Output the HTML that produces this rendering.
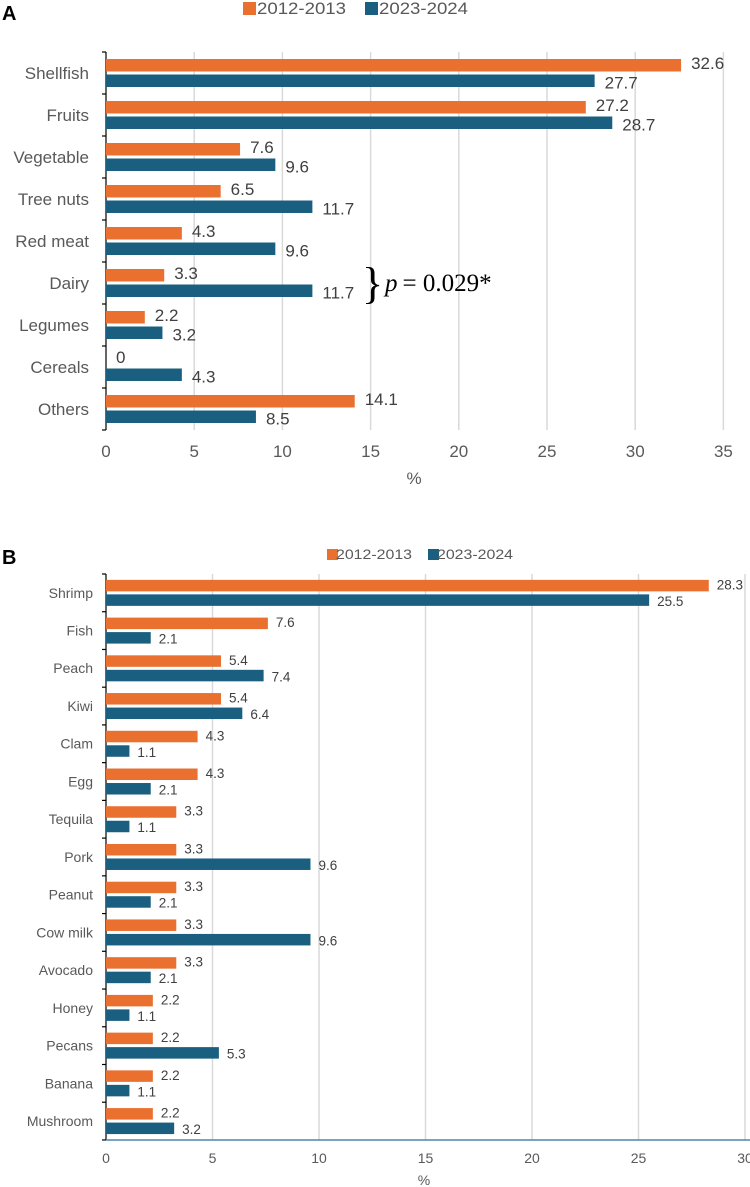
<!DOCTYPE html>
<html><head><meta charset="utf-8"><style>
html,body{margin:0;padding:0;background:#fff;}
svg{display:block;font-family:"Liberation Sans",Arial,sans-serif;}
</style></head><body>
<svg id="chart" width="750" height="1187" viewBox="0 0 750 1187">
<text x="2" y="20" font-size="20" font-weight="bold" fill="#000">A</text>
<text x="2" y="564" font-size="20" font-weight="bold" fill="#000">B</text>
<g id="ga"></g><g id="gb"></g>
</svg>
<script>
const catsA=["Shellfish","Fruits","Vegetable","Tree nuts","Red meat","Dairy","Legumes","Cereals","Others"];
const valsA1=[32.6,27.2,7.6,6.5,4.3,3.3,2.2,0,14.1];
const valsA2=[27.7,28.7,9.6,11.7,9.6,11.7,3.2,4.3,8.5];
const ticksA=[0,5,10,15,20,25,30,35];
const catsB=["Shrimp","Fish","Peach","Kiwi","Clam","Egg","Tequila","Pork","Peanut","Cow milk","Avocado","Honey","Pecans","Banana","Mushroom"];
const valsB1=[28.3,7.6,5.4,5.4,4.3,4.3,3.3,3.3,3.3,3.3,3.3,2.2,2.2,2.2,2.2];
const valsB2=[25.5,2.1,7.4,6.4,1.1,2.1,1.1,9.6,2.1,9.6,2.1,1.1,5.3,1.1,3.2];
const ticksB=[0,5,10,15,20,25,30];
const NS="http://www.w3.org/2000/svg";
const OR="#ea7030",BL="#1b5f80";
function mk(p,t,a,txt){const e=document.createElementNS(NS,t);for(const k in a)e.setAttribute(k,a[k]);if(txt!==undefined)e.textContent=txt;p.appendChild(e);return e;}
function draw(g,o){
  const x=v=>o.x0+v*o.u;
  const yb=i=>o.top+i*o.band;
  const bottom=o.top+o.cats.length*o.band;
  o.ticks.forEach(t=>{
    if(t>0){const l=mk(g,"line",{x1:x(t),x2:x(t),y1:o.top,y2:bottom,stroke:"#d9d9d9","stroke-width":1.5});
    
    }
    const tl=mk(g,"text",{x:x(t),y:o.tickY,"font-size":o.tfs,fill:"#595959","text-anchor":"middle"},t);
    
    
  });
  const ax=mk(g,"line",{x1:o.x0,x2:o.x0,y1:o.top,y2:bottom,stroke:"#000","stroke-width":1.2});
  
  
  for(let i=0;i<=o.cats.length;i++){const tk=mk(g,"line",{x1:o.x0-4,x2:o.x0,y1:yb(i),y2:yb(i),stroke:"#000","stroke-width":1.2});
    
    }
  if(o.baseline){const bl=mk(g,"line",{x1:o.x0,x2:750,y1:bottom,y2:bottom,stroke:"#4a86a8","stroke-width":1.5});
    
    }
  o.cats.forEach((c,i)=>{
    const cy=yb(i)+o.band/2;
    const cl=mk(g,"text",{x:o.x0-o.lpad,y:cy+o.cfs*0.35,"font-size":o.cfs,fill:"#595959","text-anchor":"end"},c);
    
    
    [[o.v1[i],OR,cy-o.gap-o.bh],[o.v2[i],BL,cy+o.gap]].forEach(([v,col,y],s)=>{
      if(v>0){const r=mk(g,"rect",{x:o.x0,y:y,width:x(v)-o.x0,height:o.bh,fill:col});
      
      }
      const vl=mk(g,"text",{x:x(v)+o.vpad,y:y+o.bh/2+o.vfs*0.35+(s?o.vdy:-o.vdy),"font-size":o.vfs,fill:"#404040"},String(v));
      
      
    });
  });
  const xt=mk(g,"text",{x:o.xtX,y:o.xtY,"font-size":o.tfs,fill:"#595959","text-anchor":"middle"},"%");
  
  
  o.leg.forEach(([lx,tx,txt,col,tw])=>{
    const sq=mk(g,"rect",{x:lx,y:o.legY,width:o.legS,height:o.legS,fill:col});
    
    
    const lt=mk(g,"text",{x:tx,y:o.legY+o.legS-1,"font-size":o.lfs,fill:"#595959",textLength:tw,lengthAdjust:"spacingAndGlyphs"},txt);
    
    
  });
}
draw(document.getElementById("ga"),{cats:catsA,v1:valsA1,v2:valsA2,ticks:ticksA,x0:106,u:17.64,top:52,band:42,bh:12.5,gap:1.5,
 tfs:17,cfs:17,vfs:17,lpad:17,vpad:10,vdy:2,tickY:457,xtX:414,xtY:484,baseline:false,
 legY:2,legS:13,lfs:17,leg:[[243,257,"2012-2013",OR,89],[365,379,"2023-2024",BL,89]]});
draw(document.getElementById("gb"),{cats:catsB,v1:valsB1,v2:valsB2,ticks:ticksB,x0:106,u:21.3,top:574,band:37.73,bh:11.5,gap:1.5,
 tfs:14,cfs:14,vfs:13.5,lpad:13,vpad:8,vdy:1,tickY:1163,xtX:424,xtY:1185,baseline:true,
 legY:549,legS:11,lfs:14,leg:[[327,336,"2012-2013",OR,76],[428,437,"2023-2024",BL,76]]});
const g=document.getElementById("ga");
const br=mk(g,"text",{x:362,y:298,"font-size":44,fill:"#000","font-family":"Liberation Serif, serif",transform:"scale(1,1)"},"}");


const pt=mk(g,"text",{x:385,y:291,"font-size":25,fill:"#000","font-family":"Liberation Serif, serif"});


const t1=mk(pt,"tspan",{"font-style":"italic"},"p");
const t2=mk(pt,"tspan",{},"\u2009= 0.029*");
</script>
</body></html>
